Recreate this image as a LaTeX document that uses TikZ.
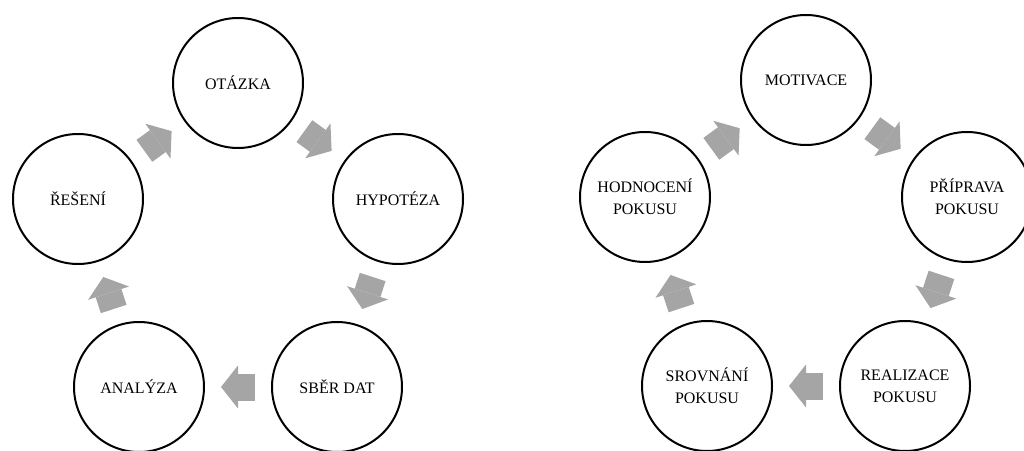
\documentclass[tikz,border=0pt]{standalone}
\usepackage{fontspec}
\setmainfont{Liberation Serif}
\usetikzlibrary{arrows.meta}
\definecolor{flowgray}{HTML}{A5A5A5}
\begin{document}
\begin{tikzpicture}
  [x=0.75pt,y=0.75pt,
   font=\fontsize{12}{16.5}\selectfont,
   inner sep=0pt,
   stage/.style={circle,draw=black,fill=white,line width=1.5pt,minimum size=97.5pt,align=center},
   flow/.style={draw=flowgray,line width=20.25pt,shorten <=12pt,shorten >=12pt,
     -{Triangle[length=12.75pt,width=32.25pt,line width=0pt]}}]
  \clip (0,0) rectangle (1024,450);
  % left cycle
  \node at (238,367) (ot)   [stage] {OTÁZKA};
  \node at (398,251) (hyp)  [stage] {HYPOTÉZA};
  \node at (337,63)  (sber) [stage] {SBĚR DAT};
  \node at (139,63)  (anal) [stage] {ANALÝZA};
  \node at (78,251)  (res)  [stage] {ŘEŠENÍ};
  \draw [flow] (ot) to (hyp);
  \draw [flow] (hyp) to (sber);
  \draw [flow] (sber) to (anal);
  \draw [flow] (anal) to (res);
  \draw [flow] (res) to (ot);
  % right cycle
  \node at (806,370) (mot)  [stage] {MOTIVACE};
  \node at (967,253) (prip) [stage] {PŘÍPRAVA\\POKUSU};
  \node at (905,64)  (real) [stage] {REALIZACE\\POKUSU};
  \node at (707,64)  (srov) [stage] {SROVNÁNÍ\\POKUSU};
  \node at (645,253) (hodn) [stage] {HODNOCENÍ\\POKUSU};
  \draw [flow] (mot) to (prip);
  \draw [flow] (prip) to (real);
  \draw [flow] (real) to (srov);
  \draw [flow] (srov) to (hodn);
  \draw [flow] (hodn) to (mot);
\end{tikzpicture}
\end{document}
